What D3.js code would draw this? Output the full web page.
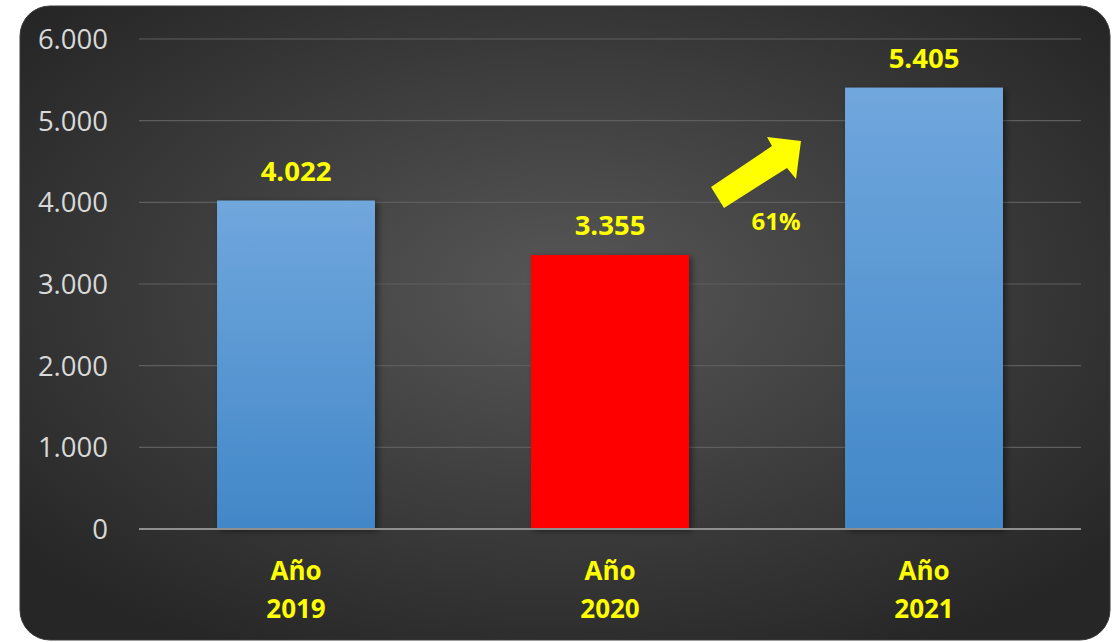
<!DOCTYPE html>
<html><head><meta charset="utf-8">
<script src="https://cdn.jsdelivr.net/npm/d3@7"></script>
<style>html,body{margin:0;padding:0;background:#fff;}svg{display:block;}</style>
</head><body>
<svg id="c" width="1117" height="642"></svg>
<script>
const categories = ["Año 2019", "Año 2020", "Año 2021"];
const values = [4022, 3355, 5405];
const valueLabels = ["4.022", "3.355", "5.405"];
const yTicks = [0, 1000, 2000, 3000, 4000, 5000, 6000];
const yTickLabels = ["0", "1.000", "2.000", "3.000", "4.000", "5.000", "6.000"];
const growthLabel = "61%";

(function(){
const svg = d3.select("#c");
const defs = svg.append("defs");
const bg = defs.append("radialGradient").attr("id","bg").attr("cx","50%").attr("cy","45%").attr("r","65%");
bg.append("stop").attr("offset","0%").attr("stop-color","#575757");
bg.append("stop").attr("offset","100%").attr("stop-color","#262626");
const bl = defs.append("linearGradient").attr("id","blue").attr("x1",0).attr("y1",0).attr("x2",0).attr("y2",1);
bl.append("stop").attr("offset","0%").attr("stop-color","#70a7dd");
bl.append("stop").attr("offset","100%").attr("stop-color","#4287c8");
const sh = defs.append("filter").attr("id","sh").attr("x","-10%").attr("y","-10%").attr("width","130%").attr("height","130%");
sh.append("feDropShadow").attr("dx",3).attr("dy",2).attr("stdDeviation",3).attr("flood-color","#000").attr("flood-opacity",0.45);

svg.append("rect").attr("x",20).attr("y",6).attr("width",1090).attr("height",634).attr("rx",30)
  .attr("fill","url(#bg)").attr("stroke","#3a3a3a").attr("stroke-width",1);

const pLeft = 139, pRight = 1081, pTop = 39, pBottom = 529;
const x = d3.scaleBand().domain(categories).range([pLeft, pRight]).paddingInner(0.497).paddingOuter(0.2485);
const y = d3.scaleLinear().domain([0, 6000]).range([pBottom, pTop]);

svg.append("g").selectAll("line").data(yTicks.filter(d=>d>0)).join("line")
  .attr("x1",pLeft).attr("x2",pRight).attr("y1",d=>y(d)).attr("y2",d=>y(d))
  .attr("stroke","#5e5e5e").attr("stroke-width",1.2);

const yAxis = d3.axisLeft(y).tickValues(yTicks).tickFormat((d,i)=>yTickLabels[i]).tickSize(0).tickPadding(0);
const ga = svg.append("g").attr("transform",`translate(${108},0)`).call(yAxis);
ga.select(".domain").remove();
ga.selectAll("text").attr("fill","#d9d9d9").style("font-family","'Open Sans', sans-serif").style("font-size","27.5px").attr("dy","0.35em");

svg.append("g").selectAll("rect").data(values).join("rect")
  .attr("x",(d,i)=>x(categories[i])).attr("width",x.bandwidth())
  .attr("y",d=>y(d)).attr("height",d=>y(0)-y(d))
  .attr("fill",(d,i)=>i===1?"#ff0000":"url(#blue)").attr("filter","url(#sh)");

svg.append("line").attr("x1",pLeft).attr("x2",pRight).attr("y1",y(0)).attr("y2",y(0))
  .attr("stroke","#8f8f8f").attr("stroke-width",2);

svg.append("g").selectAll("text").data(values).join("text")
  .attr("x",(d,i)=>x(categories[i])+x.bandwidth()/2).attr("y",d=>y(d)-20)
  .attr("text-anchor","middle").attr("fill","#ffff00")
  .style("font-family","'Open Sans', sans-serif").style("font-weight","700").style("font-size","27.5px")
  .text((d,i)=>valueLabels[i]);

const xl = svg.append("g").selectAll("text").data(categories).join("text")
  .attr("x",d=>x(d)+x.bandwidth()/2).attr("text-anchor","middle").attr("fill","#ffff00")
  .style("font-family","'Open Sans', sans-serif").style("font-weight","700").style("font-size","26px");
xl.append("tspan").attr("x",d=>x(d)+x.bandwidth()/2).attr("y",580).text(d=>d.split(" ")[0]);
xl.append("tspan").attr("x",d=>x(d)+x.bandwidth()/2).attr("y",618).text(d=>d.split(" ")[1]);

const arrowPts = [[711,187],[772,146],[767,137],[801,141],[796,179],[787,168],[724,208]];
svg.append("polygon").attr("points",arrowPts.map(p=>p.join(",")).join(" ")).attr("fill","#ffff00");
svg.append("text").attr("x",776).attr("y",230).attr("text-anchor","middle").attr("fill","#ffff00")
  .style("font-family","'Open Sans', sans-serif").style("font-weight","700").style("font-size","24px").text(growthLabel);
})();
</script>
</body></html>
